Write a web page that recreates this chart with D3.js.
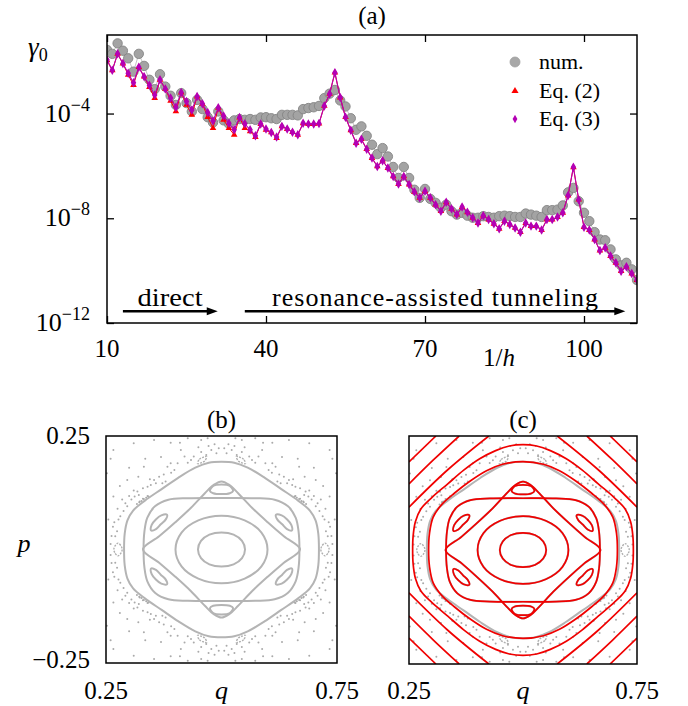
<!DOCTYPE html>
<html><head><meta charset="utf-8">
<script src="https://cdn.jsdelivr.net/npm/d3@7"></script>
<style>
body{margin:0;background:#fff}
svg{display:block}
text{font-family:"Liberation Serif","DejaVu Serif",serif;fill:#000}
</style>
</head><body>
<svg id="chart" width="688" height="706" font-family="Liberation Serif, DejaVu Serif, serif"></svg>
<script>
// ---------------- data: panel (a) ----------------
const invH = d3.range(10, 111); // 1/h = 10 ... 110
const numLog = [-1.57,-1.72,-1.32,-1.60,-1.89,-2.40,-1.72,-2.18,-2.71,-3.07,
 -2.50,-2.97,-3.32,-3.67,-3.22,-3.60,-3.92,-3.48,-3.83,-4.14,
 -4.34,-3.92,-4.26,-4.39,-4.26,-4.21,-4.24,-4.21,-4.24,-4.15,
 -4.14,-4.18,-4.21,-4.05,-4.05,-4.05,-4.07,-3.83,-3.79,-3.76,
 -3.71,-3.41,-3.24,-3.10,-3.50,-3.73,-4.18,-4.62,-4.49,-4.85,
 -5.19,-5.55,-5.32,-5.64,-6.04,-6.46,-6.04,-6.46,-6.91,-7.22,
 -6.88,-7.26,-7.41,-7.60,-7.48,-7.73,-7.86,-7.79,-7.90,-7.98,
 -7.98,-7.92,-7.95,-7.98,-7.92,-7.90,-7.92,-7.95,-7.95,-7.82,
 -7.86,-7.90,-7.95,-7.69,-7.69,-7.67,-7.51,-7.01,-6.84,-7.35,
 -7.79,-8.11,-8.53,-8.81,-8.84,-9.19,-9.57,-9.80,-9.70,-9.95,-10.36];
const eq3Log = [-1.95,-2.35,-1.72,-2.09,-2.46,-2.82,-2.23,-2.59,-2.92,-3.29,
 -2.71,-3.06,-3.41,-3.76,-3.20,-3.54,-3.86,-3.35,-3.63,-3.96,
 -4.28,-3.78,-4.09,-4.37,-4.62,-4.15,-4.39,-4.62,-4.85,-4.40,
 -4.59,-4.72,-4.90,-4.49,-4.59,-4.71,-4.81,-4.37,-4.40,-4.40,
 -4.38,-3.71,-3.25,-2.44,-3.39,-4.14,-4.64,-5.13,-4.98,-5.36,
 -5.70,-6.02,-5.80,-6.08,-6.40,-6.69,-6.40,-6.71,-6.99,-7.22,
 -6.97,-7.22,-7.48,-7.73,-7.39,-7.64,-7.86,-7.57,-7.77,-7.98,
 -8.18,-7.90,-8.05,-8.21,-8.40,-8.11,-8.24,-8.37,-8.53,-8.18,
 -8.30,-8.30,-8.45,-8.05,-8.05,-7.95,-7.79,-7.13,-6.05,-7.29,
 -8.34,-8.45,-8.81,-9.23,-9.13,-9.44,-9.70,-10.02,-9.85,-10.11,-10.36];
const eq2Log = [-1.97,-2.35,-1.72,-2.09,-2.52,-2.91,-2.23,-2.59,-2.99,-3.41,
 -2.71,-3.06,-3.51,-3.92,-3.20,-3.67,-4.05,-3.35,-3.63,-4.14,
 -4.56,-3.78,-4.24,-4.56,-4.81,-4.15,-4.56,-4.68,-4.90,-4.40,
 -4.62,-4.72,-4.94,-4.49,-4.59,-4.71,-4.81,-4.37,-4.40,-4.40,
 -4.38,-3.71,-3.25,-2.44,-3.39,-4.14,-4.64,-5.13,-4.98,-5.36,
 -5.70,-6.02,-5.80,-6.08,-6.40,-6.69,-6.40,-6.71,-6.99,-7.22,
 -6.97,-7.22,-7.48,-7.73,-7.39,-7.64,-7.86,-7.57,-7.77,-7.98,
 -8.18,-7.90,-8.05,-8.21,-8.40,-8.11,-8.24,-8.37,-8.53,-8.18,
 -8.30,-8.30,-8.45,-8.05,-8.05,-7.95,-7.79,-7.13,-6.05,-7.29,
 -8.34,-8.45,-8.81,-9.23,-9.13,-9.44,-9.70,-10.02,-9.85,-10.11,-10.36];
const xTicks = [10, 40, 70, 100];
const yTicks = [1e-12, 1e-8, 1e-4];
const yTickExp = ["\u221212", "\u22128", "\u22124"];
const legendLabels = ["num.", "Eq. (2)", "Eq. (3)"];

// ---------------- data: panels (b),(c) (q-0.5, p), one quadrant each ----------------
const qpCenter = [0.5, 0];
const torus1Q = [[0.0509,0],[0.0444,0.0189],[0.0262,0.0327],[0,0.0375]];
const torus2Q = [[0.0996,0],[0.0865,0.0371],[0.0502,0.0640],[0,0.0742]];
const sepAQ = [[0.1687,0],[0.1668,0.0400],[0.1605,0.0700],[0.1440,0.0950],[0.1150,0.1095],[0.0727,0.1130],[0,0.1135]];
const sepBQ = [[0.1700,0],[0.1350,0.0290],[0.1000,0.0600],[0.0660,0.0920],[0.0360,0.1240],[0.0160,0.1430],[0,0.1500]];
const outerGrayQ = [[0.2109,0],[0.2095,0.0349],[0.2036,0.0640],[0.1913,0.0858],[0.1658,0.1076],[0.1295,0.1331],[0.0931,0.1585],[0.0567,0.1804],[0.0276,0.1913],[0,0.1935]];
const outerRed1Q = [[0.2070,0],[0.2050,0.0370],[0.1970,0.0720],[0.1780,0.1000],[0.1500,0.1250],[0.1150,0.1520],[0.0800,0.1740],[0.0450,0.1880],[0,0.1940]];
const outerRed2Q = [[0.2420,0],[0.2410,0.0300],[0.2360,0.0620],[0.2240,0.0900],[0.2000,0.1150],[0.1650,0.1450],[0.1300,0.1750],[0.0950,0.2000],[0.0600,0.2180],[0.0300,0.2280],[0,0.2310]];
const topIslandHalf = [[0,0.122],[0.018,0.124],[0.025,0.129],[0.018,0.140],[0,0.143]];
const diagIsland = [[0.1177,0.0763],[0.1303,0.0751],[0.1421,0.0661],[0.1511,0.0543],[0.1523,0.0417],[0.1418,0.0450],[0.1315,0.0555],[0.1210,0.0658]];
const sideIslandHalf = [[0.224,-0.014],[0.231,-0.007],[0.233,0],[0.231,0.007],[0.224,0.014],[0.217,0.007],[0.215,0],[0.217,-0.007]];
const chainIsland = [[0.0518,0.1892],[0.0480,0.1985],[0.0400,0.2030],[0.0322,0.2048],[0.0360,0.1955],[0.0440,0.1910]];
const cornerLines = [
  [[0.191,0.25],[0.25,0.193]],
  [[0.140,0.25],[0.196,0.198],[0.25,0.145]],
  [[0.075,0.25],[0.165,0.176],[0.25,0.094]]
];
const seaDots = [[0.011,0.212],[0.022,0.219],[0.006,0.223],[0.033,0.208],[0.044,0.215],[0.066,0.197],[0.073,0.191],
 [0.102,0.175],[0.109,0.169],[0.117,0.182],[0.142,0.146],[0.146,0.153],[0.153,0.142],[0.179,0.120],[0.182,0.128],
 [0.188,0.117],[0.204,0.095],[0.208,0.102],[0.219,0.073],[0.223,0.066],[0.226,0.040],[0.230,0.029],[0.044,0.241],
 [0.088,0.219],[0.131,0.204],[0.168,0.182],[0.204,0.153],[0.234,0.117],[0.245,0.066],[0.248,0.168],[0.190,0.234],
 [0.234,0.219],[0.073,0.245],[0.146,0.241],[0.160,0.118],[0.170,0.112],[0.177,0.106],[0.121,0.150],[0.128,0.146],
 [0.015,0.232],[0.028,0.228],[0.050,0.225],[0.060,0.205],[0.080,0.205],[0.095,0.190],[0.110,0.190],[0.125,0.165],
 [0.135,0.160],[0.155,0.155],[0.160,0.138],[0.170,0.135],[0.190,0.130],[0.195,0.110],[0.200,0.118],[0.212,0.085],
 [0.215,0.110],[0.225,0.090],[0.235,0.050],[0.238,0.030],[0.240,0.012],[0.232,0.060],[0.200,0.180],[0.220,0.140],
 [0.110,0.235],[0.090,0.235],[0.030,0.245],[0.165,0.200],[0.240,0.200],[0.180,0.160],
 [0.158,0.117],[0.163,0.114],[0.168,0.111],[0.173,0.107],[0.178,0.104],[0.183,0.100]];

// ---------------- drawing ----------------
const svg = d3.select("#chart");

// panel (a)
const xA = d3.scaleLinear().domain([10, 110]).range([107, 637]);
const yA = d3.scaleLog().domain([1e-12, 1e-1]).range([323, 35]);
const gA = svg.append("g");

const tickLen = 7;
gA.append("g").attr("transform", `translate(0,${yA.range()[0]})`)
  .call(d3.axisBottom(xA).tickValues(xTicks).tickSize(-tickLen).tickFormat(""))
  .call(g => g.select(".domain").remove());
gA.append("g").attr("transform", `translate(0,${yA.range()[1]})`)
  .call(d3.axisTop(xA).tickValues(xTicks).tickSize(-tickLen).tickFormat(""))
  .call(g => g.select(".domain").remove());
gA.append("g").attr("transform", `translate(${xA.range()[0]},0)`)
  .call(d3.axisLeft(yA).tickValues(yTicks).tickSize(-tickLen).tickFormat(""))
  .call(g => g.select(".domain").remove());
gA.append("g").attr("transform", `translate(${xA.range()[1]},0)`)
  .call(d3.axisRight(yA).tickValues(yTicks).tickSize(-tickLen).tickFormat(""))
  .call(g => g.select(".domain").remove());
gA.selectAll(".tick line").attr("stroke", "#000").attr("stroke-width", 1.3);

// tick labels
gA.selectAll(".xl").data(xTicks).join("text")
  .attr("x", d => xA(d)).attr("y", 357).attr("text-anchor", "middle")
  .attr("font-size", 25).text(d => d);
const yl = gA.selectAll(".yl").data(yTicks).join("text")
  .attr("x", 90).attr("y", d => yA(d) + 8).attr("text-anchor", "end").attr("font-size", 26);
yl.append("tspan").text("10");
yl.append("tspan").attr("dy", -11).attr("font-size", 18).text((d, i) => yTickExp[i]);

// axis titles
const yt = gA.append("text").attr("x", 28).attr("y", 56).attr("font-size", 27);
yt.append("tspan").attr("font-style", "italic").text("\u03b3");
yt.append("tspan").attr("dy", 5).attr("font-size", 18).text("0");
const xt = gA.append("text").attr("x", 499).attr("y", 366).attr("text-anchor", "middle").attr("font-size", 25);
xt.append("tspan").text("1/");
xt.append("tspan").attr("font-style", "italic").text("h");
svg.append("text").attr("x", 372).attr("y", 24).attr("text-anchor", "middle").attr("font-size", 25).text("(a)");

// clip for data
svg.append("clipPath").attr("id", "clipA").append("rect")
  .attr("x", 107).attr("y", 35).attr("width", 530).attr("height", 288);
const dA = gA.append("g").attr("clip-path", "url(#clipA)");

const seriesNum = invH.map((n, i) => ({n, v: 10 ** numLog[i]}));
const series2 = invH.map((n, i) => ({n, v: 10 ** eq2Log[i]}));
const series3 = invH.map((n, i) => ({n, v: 10 ** eq3Log[i]}));
const lineA = d3.line().x(d => xA(d.n)).y(d => yA(d.v));

dA.append("path").datum(seriesNum).attr("d", lineA).attr("fill", "none").attr("stroke", "#c4c4c4").attr("stroke-width", 1);
dA.selectAll(".num").data(seriesNum).join("circle")
  .attr("cx", d => xA(d.n)).attr("cy", d => yA(d.v)).attr("r", 4.7)
  .attr("fill", "#a3a3a3").attr("stroke", "#858585").attr("stroke-width", 0.9);
const RED = "#ff0000", PURPLE = "#b400b4";
dA.append("path").datum(series2).attr("d", lineA).attr("fill", "none").attr("stroke", RED).attr("stroke-width", 1);
const tri = d3.symbol().type(d3.symbolTriangle).size(19);
const dia = d3.symbol().type(d3.symbolDiamond).size(26);
dA.selectAll(".e2").data(series2).join("path")
  .attr("transform", d => `translate(${xA(d.n)},${yA(d.v)})`).attr("d", tri).attr("fill", RED);
dA.append("path").datum(series3).attr("d", lineA).attr("fill", "none").attr("stroke", PURPLE).attr("stroke-width", 1.1);
dA.selectAll(".e3").data(series3).join("path")
  .attr("transform", d => `translate(${xA(d.n)},${yA(d.v)})`).attr("d", dia).attr("fill", PURPLE);

// arrows + annotations
const arrowY = 10 ** -11.55;
function arrow(n0, n1) {
  const x0 = xA(n0), x1 = xA(n1), y = yA(arrowY);
  gA.append("line").attr("x1", x0).attr("x2", x1 - 6).attr("y1", y).attr("y2", y)
    .attr("stroke", "#000").attr("stroke-width", 2.6);
  gA.append("path").attr("d", `M${x1},${y}L${x1 - 11},${y - 4}L${x1 - 11},${y + 4}Z`).attr("fill", "#000");
}
arrow(13.0, 30.9);
arrow(36.0, 107.8);
gA.append("text").attr("x", xA(21.9)).attr("y", 306).attr("text-anchor", "middle").attr("font-size", 26)
  .attr("textLength", 65).attr("lengthAdjust", "spacingAndGlyphs").text("direct");
gA.append("text").attr("x", xA(71.9)).attr("y", 306).attr("text-anchor", "middle").attr("font-size", 26)
  .attr("textLength", 326).attr("lengthAdjust", "spacing").text("resonance-assisted tunneling");

// frame
gA.append("rect").attr("x", 107).attr("y", 35).attr("width", 530).attr("height", 288)
  .attr("fill", "none").attr("stroke", "#000").attr("stroke-width", 1.5);

// legend
const legY = [62, 91, 119];
const lg = gA.append("g");
lg.append("circle").attr("cx", 515).attr("cy", legY[0]).attr("r", 5).attr("fill", "#a8a8a8").attr("stroke", "#a0a0a0").attr("stroke-width", 0.8);
lg.append("path").attr("transform", `translate(515,${legY[1]})`).attr("d", d3.symbol().type(d3.symbolTriangle).size(22)).attr("fill", RED);
lg.append("path").attr("transform", `translate(515,${legY[2]})`).attr("d", d3.symbol().type(d3.symbolDiamond).size(20)).attr("fill", PURPLE);
lg.selectAll("text").data(legendLabels).join("text")
  .attr("x", 539).attr("y", (d, i) => legY[i] + 7).attr("font-size", 22).text(d => d);

// ---------------- panels (b), (c) ----------------
const mq = ([a, b]) => [-a, b], mp = ([a, b]) => [a, -b], mqp = ([a, b]) => [-a, -b];
function fullLoop(Q) {
  const q2 = Q.slice().reverse().map(mq).slice(1);
  const q3 = Q.map(mqp).slice(1);
  const q4 = Q.slice().reverse().map(mp).slice(1, -1);
  return Q.concat(q2, q3, q4);
}
function halfLoop(H) { return H.concat(H.slice().reverse().map(mq).slice(1, -1)); }

const panels = [
  {id: "b", x0: 106, x1: 337, y0: 436, y1: 663, label: "(b)", red: false},
  {id: "c", x0: 409, x1: 637, y0: 436, y1: 664, label: "(c)", red: true}
];

panels.forEach(P => {
  const xs = d3.scaleLinear().domain([0.25, 0.75]).range([P.x0, P.x1]);
  const ys = d3.scaleLinear().domain([-0.25, 0.25]).range([P.y1, P.y0]);
  const g = svg.append("g");
  svg.append("clipPath").attr("id", "clip" + P.id).append("rect")
    .attr("x", P.x0).attr("y", P.y0).attr("width", P.x1 - P.x0).attr("height", P.y1 - P.y0);
  const d = g.append("g").attr("clip-path", `url(#clip${P.id})`);
  const X = v => xs(qpCenter[0] + v[0]), Y = v => ys(qpCenter[1] + v[1]);
  const closed = d3.line().x(X).y(Y).curve(d3.curveCatmullRomClosed.alpha(0.5));
  const open = d3.line().x(X).y(Y).curve(d3.curveCatmullRom.alpha(0.5));

  // chaotic sea dots
  const dots = [];
  seaDots.forEach(p => { dots.push(p, mq(p), mp(p), mqp(p)); });
  d.selectAll(".dot").data(dots).join("circle")
    .attr("cx", X).attr("cy", Y).attr("r", 1.0).attr("fill", "#aaaaaa");
  // small islands in chaotic layer
  const smallLoops = [sideIslandHalf, sideIslandHalf.map(mq),
    chainIsland, chainIsland.map(mq), chainIsland.map(mp), chainIsland.map(mqp)];
  d.selectAll(".si").data(smallLoops).join("path").attr("d", closed)
    .attr("fill", "none").attr("stroke", "#b0b0b0").attr("stroke-width", 1.4).attr("stroke-dasharray", "2,1.2");

  const topI = halfLoop(topIslandHalf);
  const mainLoops = [fullLoop(torus1Q), fullLoop(torus2Q), fullLoop(sepAQ), fullLoop(sepBQ),
    topI, topI.map(mp), diagIsland, diagIsland.map(mq), diagIsland.map(mp), diagIsland.map(mqp)];
  const grayLoops = mainLoops.concat([fullLoop(outerGrayQ)]);
  d.selectAll(".gl").data(grayLoops).join("path").attr("d", closed)
    .attr("fill", "none").attr("stroke", "#b4b4b4").attr("stroke-width", 2);

  if (P.red) {
    const redLoops = mainLoops.concat([fullLoop(outerRed1Q), fullLoop(outerRed2Q)]);
    d.selectAll(".rl").data(redLoops).join("path").attr("d", closed)
      .attr("fill", "none").attr("stroke", "#f00000").attr("stroke-width", 1.7);
    const lines = [];
    cornerLines.forEach(L => { lines.push(L, L.map(mq), L.map(mp), L.map(mqp)); });
    d.selectAll(".cl").data(lines).join("path").attr("d", open)
      .attr("fill", "none").attr("stroke", "#f00000").attr("stroke-width", 1.7);
  }

  g.append("rect").attr("x", P.x0).attr("y", P.y0).attr("width", P.x1 - P.x0).attr("height", P.y1 - P.y0)
    .attr("fill", "none").attr("stroke", "#000").attr("stroke-width", 1.5);
  svg.append("text").attr("x", (P.x0 + P.x1) / 2).attr("y", 428).attr("text-anchor", "middle")
    .attr("font-size", 25).text(P.label);
  svg.selectAll(".qt" + P.id).data([0.25, 0.75]).join("text")
    .attr("x", v => xs(v)).attr("y", 699).attr("text-anchor", "middle").attr("font-size", 25).text(v => v.toFixed(2));
  svg.append("text").attr("x", (P.x0 + P.x1) / 2).attr("y", 699).attr("text-anchor", "middle")
    .attr("font-size", 26).attr("font-style", "italic").text("q");
  if (P.id === "b") {
    svg.append("text").attr("x", 90).attr("y", ys(0.25) + 8).attr("text-anchor", "end").attr("font-size", 25).text("0.25");
    svg.append("text").attr("x", 90).attr("y", ys(-0.25) + 5).attr("text-anchor", "end").attr("font-size", 25).text("\u22120.25");
    svg.append("text").attr("x", 24).attr("y", 552).attr("text-anchor", "middle").attr("font-size", 26).attr("font-style", "italic").text("p");
  }
});
</script>
</body></html>
